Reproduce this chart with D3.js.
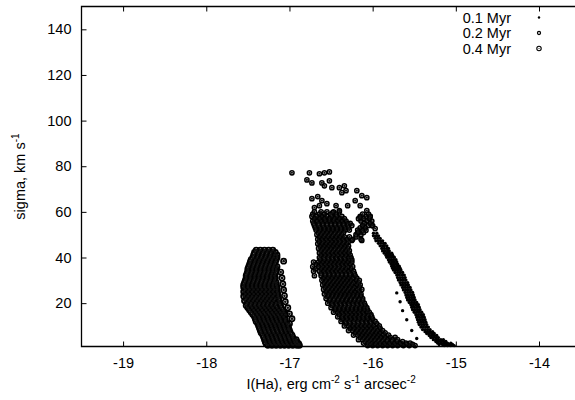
<!DOCTYPE html>
<html><head><meta charset="utf-8">
<script src="https://cdn.jsdelivr.net/npm/d3@7"></script>
<style>
body{margin:0;background:#fff}
text{font-family:"Liberation Sans",Arial,sans-serif;font-size:14.5px;fill:#000}
</style>
</head><body>
<svg id="c" width="575" height="400"></svg>
<script>
// ---------- data ----------
const xTicks = [-19, -18, -17, -16, -15, -14];
const yTicks = [20, 40, 60, 80, 100, 120, 140];
const seriesNames = ["0.1 Myr", "0.2 Myr", "0.4 Myr"];

// 0.1 Myr: [sigma, [I(Ha) values]]
const myr01Rows = [
 [50.6,[-15.99,-15.95]],
 [49.5,[-15.99,-15.96,-15.93]],
 [48.4,[-15.97,-15.94,-15.91]],
 [47.3,[-15.96,-15.93,-15.90,-15.88]],
 [46.2,[-15.93,-15.90,-15.87,-15.85]],
 [45.1,[-15.91,-15.88,-15.86,-15.83]],
 [44.0,[-15.89,-15.86,-15.83,-15.81]],
 [42.9,[-15.88,-15.85,-15.82,-15.80]],
 [41.9,[-15.86,-15.83,-15.80,-15.77]],
 [41.0,[-15.84,-15.81,-15.79,-15.76]],
 [40.1,[-15.83,-15.80,-15.77,-15.74]],
 [39.0,[-15.81,-15.78,-15.75,-15.72]],
 [38.0,[-15.80,-15.77,-15.74,-15.71]],
 [37.1,[-15.78,-15.75,-15.72,-15.70]],
 [36.2,[-15.77,-15.74,-15.71,-15.68]],
 [35.3,[-15.76,-15.73,-15.70,-15.67]],
 [34.5,[-15.75,-15.72,-15.69,-15.66]],
 [33.4,[-15.73,-15.70,-15.67,-15.64]],
 [32.3,[-15.71,-15.68,-15.65,-15.62]],
 [31.2,[-15.70,-15.67,-15.64,-15.61]],
 [30.1,[-15.69,-15.66,-15.63,-15.60]],
 [29.0,[-15.67,-15.64,-15.61,-15.58]],
 [28.0,[-15.66,-15.63,-15.60,-15.57]],
 [26.9,[-15.64,-15.61,-15.58,-15.55]],
 [25.8,[-15.63,-15.60,-15.57,-15.54]],
 [24.7,[-15.61,-15.58,-15.55,-15.52]],
 [23.6,[-15.60,-15.57,-15.54,-15.51]],
 [22.5,[-15.59,-15.56,-15.53,-15.50]],
 [21.4,[-15.58,-15.55,-15.52,-15.49]],
 [20.3,[-15.56,-15.53,-15.50,-15.47]],
 [19.3,[-15.54,-15.51,-15.48,-15.45]],
 [18.2,[-15.53,-15.50,-15.47,-15.44]],
 [17.1,[-15.52,-15.49,-15.46,-15.43]],
 [16.0,[-15.50,-15.47,-15.44,-15.41]],
 [14.9,[-15.48,-15.45,-15.42,-15.39]],
 [13.8,[-15.47,-15.44,-15.41,-15.38]],
 [12.7,[-15.46,-15.43,-15.40,-15.37]],
 [11.6,[-15.45,-15.42,-15.39,-15.36]],
 [10.6,[-15.44,-15.41,-15.38,-15.35]],
 [9.5,[-15.42,-15.39,-15.36,-15.33]],
 [8.4,[-15.40,-15.37,-15.34,-15.31]],
 [7.5,[-15.37,-15.34,-15.31,-15.28]],
 [6.7,[-15.35,-15.32,-15.29,-15.26]],
 [5.8,[-15.32,-15.29,-15.26,-15.23]],
 [4.9,[-15.30,-15.27,-15.24,-15.21]],
 [4.0,[-15.27,-15.24,-15.21,-15.18,-15.15]],
 [3.2,[-15.24,-15.21,-15.18,-15.15,-15.12]],
 [2.5,[-15.22,-15.18,-15.14,-15.10,-15.06]],
 [1.9,[-15.20,-15.16,-15.12,-15.08,-15.04]],
 [1.4,[-15.14,-15.10,-15.06,-15.02]]
];
const myr01Extra = [[-15.71,24.5],[-15.67,20.6],[-15.64,16.7],[-15.59,12.7],[-15.53,8.0],[-15.47,4.5]];

// 0.2 Myr
const myr02Rows = [
 [60,[-16.70,-16.62,-16.55,-16.47,-16.40]],
 [59,[-16.72,-16.64,-16.58,-16.50,-16.44,-16.12,-16.05]],
 [58,[-16.73,-16.67,-16.61,-16.55,-16.49,-16.43,-16.37,-16.15,-16.08,-16.03]],
 [57,[-16.70,-16.64,-16.58,-16.52,-16.46,-16.40,-16.34,-16.17,-16.11,-16.04]],
 [56,[-16.72,-16.67,-16.62,-16.57,-16.52,-16.47,-16.42,-16.37,-16.32,-16.14,-16.07,-16.01]],
 [55,[-16.71,-16.65,-16.60,-16.55,-16.50,-16.45,-16.40,-16.35,-16.30,-16.27,-16.10,-16.03]],
 [54,[-16.70,-16.65,-16.60,-16.55,-16.50,-16.45,-16.40,-16.35,-16.30,-16.25,-16.12,-16.05,-16.00]],
 [53,[-16.69,-16.63,-16.58,-16.53,-16.48,-16.43,-16.38,-16.33,-16.29,-16.15,-16.09]],
 [52,[-16.68,-16.63,-16.58,-16.53,-16.48,-16.43,-16.38,-16.33,-16.28,-16.18,-16.12]],
 [51,[-16.65,-16.60,-16.55,-16.50,-16.45,-16.40,-16.35,-16.17,-16.11]],
 [50,[-16.67,-16.62,-16.57,-16.52,-16.47,-16.42,-16.37,-16.20,-16.14]],
 [49,[-16.64,-16.59,-16.54,-16.49,-16.44,-16.39,-16.34,-16.28,-16.20]],
 [48,[-16.66,-16.61,-16.56,-16.51,-16.46,-16.41,-16.36,-16.31,-16.24,-16.14]],
 [47,[-16.64,-16.59,-16.54,-16.49,-16.44,-16.39,-16.34,-16.29]],
 [46,[-16.66,-16.61,-16.56,-16.51,-16.46,-16.41,-16.36,-16.31]],
 [45,[-16.63,-16.58,-16.53,-16.48,-16.43,-16.38,-16.33,-16.29]],
 [44,[-16.65,-16.60,-16.55,-16.50,-16.45,-16.40,-16.35,-16.30]],
 [43,[-16.62,-16.57,-16.52,-16.47,-16.42,-16.37,-16.32,-16.28]],
 [42,[-16.64,-16.59,-16.54,-16.49,-16.44,-16.39,-16.34,-16.29]],
 [41,[-16.62,-16.57,-16.52,-16.47,-16.42,-16.37,-16.32,-16.27]],
 [40,[-16.64,-16.59,-16.54,-16.49,-16.44,-16.39,-16.34,-16.29,-16.26]],
 [39,[-16.63,-16.58,-16.53,-16.48,-16.43,-16.38,-16.33,-16.28,-16.25]],
 [38,[-16.71,-16.65,-16.60,-16.55,-16.50,-16.45,-16.40,-16.35,-16.30,-16.25]],
 [37,[-16.68,-16.62,-16.57,-16.52,-16.47,-16.42,-16.37,-16.32,-16.27]],
 [36,[-16.72,-16.65,-16.60,-16.55,-16.50,-16.45,-16.40,-16.35,-16.30,-16.24]],
 [35,[-16.69,-16.62,-16.57,-16.52,-16.47,-16.42,-16.37,-16.32,-16.26]],
 [34,[-16.71,-16.64,-16.59,-16.54,-16.49,-16.44,-16.39,-16.34,-16.29,-16.23]],
 [33,[-16.62,-16.57,-16.52,-16.47,-16.42,-16.37,-16.32,-16.27,-16.22]],
 [32,[-16.70,-16.62,-16.57,-16.52,-16.47,-16.42,-16.37,-16.32,-16.27,-16.21]],
 [31,[-16.59,-16.54,-16.49,-16.44,-16.39,-16.34,-16.29,-16.24,-16.19]],
 [30,[-16.61,-16.56,-16.51,-16.46,-16.41,-16.36,-16.31,-16.26,-16.20,-16.16]],
 [29,[-16.58,-16.53,-16.48,-16.43,-16.38,-16.33,-16.28,-16.23,-16.17]],
 [28,[-16.60,-16.55,-16.50,-16.45,-16.40,-16.35,-16.30,-16.25,-16.19,-16.15]],
 [27,[-16.57,-16.52,-16.47,-16.42,-16.37,-16.32,-16.27,-16.22,-16.16]],
 [26,[-16.59,-16.54,-16.49,-16.44,-16.39,-16.34,-16.29,-16.24,-16.18,-16.13]],
 [25,[-16.56,-16.51,-16.46,-16.41,-16.36,-16.31,-16.26,-16.21,-16.16]],
 [24,[-16.58,-16.53,-16.48,-16.43,-16.38,-16.33,-16.28,-16.23,-16.18,-16.14]],
 [23,[-16.54,-16.49,-16.44,-16.39,-16.34,-16.29,-16.24,-16.19,-16.14]],
 [22,[-16.56,-16.51,-16.46,-16.41,-16.36,-16.31,-16.26,-16.21,-16.16,-16.12]],
 [21,[-16.52,-16.47,-16.42,-16.37,-16.32,-16.27,-16.22,-16.17,-16.12]],
 [20,[-16.54,-16.49,-16.44,-16.39,-16.34,-16.29,-16.24,-16.19,-16.14,-16.10]],
 [19,[-16.48,-16.43,-16.38,-16.33,-16.28,-16.23,-16.18,-16.13,-16.09]],
 [18,[-16.50,-16.45,-16.40,-16.35,-16.30,-16.25,-16.20,-16.15,-16.10,-16.07]],
 [17,[-16.45,-16.40,-16.35,-16.30,-16.25,-16.20,-16.15,-16.10,-16.06]],
 [16,[-16.47,-16.42,-16.37,-16.32,-16.27,-16.22,-16.17,-16.12,-16.07,-16.04]],
 [15,[-16.40,-16.35,-16.30,-16.25,-16.20,-16.15,-16.10,-16.05,-16.02]],
 [14,[-16.42,-16.37,-16.32,-16.27,-16.22,-16.17,-16.12,-16.07,-16.01]],
 [13,[-16.36,-16.31,-16.26,-16.21,-16.16,-16.11,-16.06,-16.00]],
 [12,[-16.38,-16.33,-16.28,-16.23,-16.18,-16.13,-16.08,-16.03,-15.97]],
 [11,[-16.32,-16.27,-16.22,-16.17,-16.12,-16.07,-16.02,-15.95]],
 [10,[-16.34,-16.29,-16.24,-16.19,-16.14,-16.09,-16.04,-15.99,-15.92]],
 [9,[-16.27,-16.22,-16.17,-16.12,-16.07,-16.02,-15.97,-15.91]],
 [8,[-16.29,-16.24,-16.19,-16.14,-16.09,-16.04,-15.99,-15.94,-15.88]],
 [7,[-16.21,-16.16,-16.11,-16.06,-16.01,-15.96,-15.91,-15.85]],
 [6,[-16.23,-16.18,-16.13,-16.08,-16.03,-15.98,-15.93,-15.87,-15.81]],
 [5,[-16.15,-16.10,-16.05,-16.00,-15.95,-15.90,-15.85,-15.79,-15.73]],
 [4,[-16.17,-16.12,-16.07,-16.02,-15.97,-15.92,-15.87,-15.82,-15.76,-15.70]],
 [3.2,[-16.09,-16.04,-15.99,-15.94,-15.89,-15.83,-15.77,-15.71,-15.64]],
 [2.5,[-16.11,-16.06,-16.01,-15.96,-15.91,-15.86,-15.80,-15.74,-15.67,-15.60,-15.55]],
 [1.9,[-16.03,-15.97,-15.91,-15.85,-15.79,-15.73,-15.66,-15.59,-15.52]],
 [1.4,[-16.06,-16.00,-15.94,-15.88,-15.82,-15.76,-15.70,-15.63,-15.56,-15.49]]
];
const myr02Extra = [
 [-16.97,77.1],[-16.76,77.1],[-16.64,76.7],[-16.58,77.1],[-16.52,77.5],
 [-16.79,74.0],[-16.73,72.7],[-16.61,72.7],[-16.52,73.6],[-16.58,71.4],
 [-16.49,70.6],[-16.40,70.6],[-16.34,71.4],[-16.37,68.4],[-16.32,69.3],
 [-16.73,65.8],[-16.66,66.7],[-16.61,64.9],[-16.55,63.6],[-16.70,61.9],
 [-16.48,59.7],[-16.40,60.6],[-16.19,69.3],[-16.13,67.1],[-16.07,66.2],
 [-16.21,64.9],[-16.30,62.7],[-16.15,62.7],[-16.07,60.6],[-16.03,58.0],
 [-16.15,57.5],[-16.12,54.0],[-16.01,54.0],[-16.18,51.0],[-16.13,47.5],
 [-16.25,47.5],[-16.44,62.7],[-16.64,62.7],[-16.08,51.9],[-15.97,52.7]
];

// 0.4 Myr
const myr04Rows = [
 [43.2,[-17.40,-17.35,-17.30,-17.25,-17.20]],
 [42.2,[-17.42,-17.37,-17.32,-17.27,-17.22,-17.17]],
 [41.1,[-17.43,-17.38,-17.33,-17.28,-17.23,-17.18,-17.15]],
 [40.0,[-17.44,-17.39,-17.34,-17.29,-17.24,-17.19,-17.15]],
 [39.0,[-17.46,-17.41,-17.36,-17.31,-17.26,-17.21,-17.16]],
 [38.0,[-17.47,-17.42,-17.37,-17.32,-17.27,-17.22,-17.17]],
 [37.0,[-17.48,-17.43,-17.38,-17.33,-17.28,-17.23,-17.18]],
 [36.0,[-17.49,-17.44,-17.39,-17.34,-17.29,-17.24,-17.19,-17.15]],
 [35.0,[-17.50,-17.45,-17.40,-17.35,-17.30,-17.25,-17.20,-17.16]],
 [34.0,[-17.50,-17.45,-17.40,-17.35,-17.30,-17.25,-17.20,-17.16]],
 [33.0,[-17.51,-17.46,-17.41,-17.36,-17.31,-17.26,-17.21,-17.17]],
 [32.0,[-17.52,-17.47,-17.42,-17.37,-17.32,-17.27,-17.22,-17.18]],
 [31.0,[-17.52,-17.47,-17.42,-17.37,-17.32,-17.27,-17.22,-17.17]],
 [30.0,[-17.53,-17.48,-17.43,-17.38,-17.33,-17.28,-17.23,-17.18]],
 [29.0,[-17.54,-17.49,-17.44,-17.39,-17.34,-17.29,-17.24,-17.19,-17.16]],
 [28.0,[-17.55,-17.50,-17.45,-17.40,-17.35,-17.30,-17.25,-17.20,-17.16]],
 [27.0,[-17.55,-17.50,-17.45,-17.40,-17.35,-17.30,-17.25,-17.20,-17.15]],
 [26.0,[-17.53,-17.48,-17.43,-17.38,-17.33,-17.28,-17.23,-17.18,-17.15]],
 [25.0,[-17.55,-17.50,-17.45,-17.40,-17.35,-17.30,-17.25,-17.20,-17.15]],
 [24.0,[-17.53,-17.48,-17.43,-17.38,-17.33,-17.28,-17.23,-17.18,-17.14]],
 [23.0,[-17.55,-17.50,-17.45,-17.40,-17.35,-17.30,-17.25,-17.20,-17.14]],
 [22.0,[-17.52,-17.47,-17.42,-17.37,-17.32,-17.27,-17.22,-17.17,-17.13]],
 [21.0,[-17.54,-17.49,-17.44,-17.39,-17.34,-17.29,-17.24,-17.19,-17.13]],
 [20.0,[-17.51,-17.46,-17.41,-17.36,-17.31,-17.26,-17.21,-17.16,-17.12]],
 [19.0,[-17.52,-17.47,-17.42,-17.37,-17.32,-17.27,-17.22,-17.17,-17.11]],
 [18.0,[-17.50,-17.45,-17.40,-17.35,-17.30,-17.25,-17.20,-17.15,-17.10]],
 [17.0,[-17.48,-17.43,-17.38,-17.33,-17.28,-17.23,-17.18,-17.13,-17.08]],
 [16.0,[-17.46,-17.41,-17.36,-17.31,-17.26,-17.21,-17.16,-17.11,-17.07]],
 [15.0,[-17.44,-17.39,-17.34,-17.29,-17.24,-17.19,-17.14,-17.09,-17.05]],
 [14.0,[-17.42,-17.37,-17.32,-17.27,-17.22,-17.17,-17.12,-17.07]],
 [13.0,[-17.41,-17.36,-17.31,-17.26,-17.21,-17.16,-17.11,-17.05]],
 [12.0,[-17.40,-17.35,-17.30,-17.25,-17.20,-17.15,-17.10,-17.05]],
 [11.0,[-17.38,-17.33,-17.28,-17.23,-17.18,-17.13,-17.08,-17.03]],
 [10.0,[-17.37,-17.32,-17.27,-17.22,-17.17,-17.12,-17.07,-17.02]],
 [9.0,[-17.36,-17.31,-17.26,-17.21,-17.16,-17.11,-17.06,-17.01]],
 [8.0,[-17.35,-17.30,-17.25,-17.20,-17.15,-17.10,-17.05,-17.00]],
 [7.0,[-17.34,-17.29,-17.24,-17.19,-17.14,-17.09,-17.04,-16.99]],
 [6.0,[-17.32,-17.27,-17.22,-17.17,-17.12,-17.07,-17.02,-16.97]],
 [5.0,[-17.31,-17.26,-17.21,-17.16,-17.11,-17.06,-17.01,-16.96]],
 [4.0,[-17.30,-17.25,-17.20,-17.15,-17.10,-17.05,-17.00,-16.95,-16.92]],
 [3.0,[-17.29,-17.24,-17.19,-17.14,-17.09,-17.04,-16.99,-16.94,-16.91]],
 [2.2,[-17.28,-17.23,-17.18,-17.13,-17.08,-17.03,-16.98,-16.93,-16.89]],
 [1.5,[-17.26,-17.21,-17.16,-17.11,-17.06,-17.01,-16.96,-16.91,-16.88]]
];
const myr04Extra = [
 [-17.105,33.6],[-17.09,31.0],[-17.08,28.4],[-17.07,25.8],[-17.06,23.2],
 [-17.05,20.6],[-17.02,18.0],[-17.00,15.3],[-16.97,13.2],[-17.00,11.0],
 [-17.01,8.4],[-17.07,38.4]
];

// ---------- drawing ----------
const L = 81.5, T = 6.5, B = 346.5, R = 580.6;
const svg = d3.select("#c");
const x = d3.scaleLinear().domain([-19.5, -13.5]).range([L, R]);
const y = d3.scaleLinear().domain([1, 150]).range([B, T]);

const flat = (rows, extra) => rows.flatMap(([s, xs]) => xs.map(v => [v, s])).concat(extra);
const p01 = flat(myr01Rows, myr01Extra);
const p02 = flat(myr02Rows, myr02Extra);
const p04 = flat(myr04Rows, myr04Extra);

const plot = svg.append("g");
function dots(g, pts, r) {
  g.selectAll("circle.d").data(pts).join("circle").attr("class", "d")
    .attr("cx", d => x(d[0])).attr("cy", d => y(d[1])).attr("r", r).attr("fill", "#000");
}
function rings(g, pts, r, sw, cr) {
  g.selectAll("circle.r").data(pts).join("circle").attr("class", "r")
    .attr("cx", d => x(d[0])).attr("cy", d => y(d[1])).attr("r", r)
    .attr("fill", "none").attr("stroke", "#000").attr("stroke-width", sw);
  g.selectAll("circle.c").data(pts).join("circle").attr("class", "c")
    .attr("cx", d => x(d[0])).attr("cy", d => y(d[1])).attr("r", cr).attr("fill", "#111");
}
dots(plot.append("g"), p01, 1.7);
rings(plot.append("g"), p02, 2.1, 1.5, 1.1);
rings(plot.append("g"), p04, 2.6, 1.7, 1.3);

// axes
const fmt = d => String(d);
const ax = d3.axisBottom(x).tickValues(xTicks).tickSize(-5).tickPadding(11).tickFormat(fmt);
const gx = svg.append("g").attr("transform", `translate(0,${B})`).call(ax);
const gxt = svg.append("g").attr("transform", `translate(0,${T})`)
  .call(d3.axisTop(x).tickValues(xTicks).tickSize(-5).tickFormat(""));
const ay = d3.axisLeft(y).tickValues(yTicks).tickSize(-5).tickPadding(10).tickFormat(fmt);
const gy = svg.append("g").attr("transform", `translate(${L},0)`).call(ay);
[gx, gxt, gy].forEach(g => {
  g.select(".domain").remove();
  g.selectAll("line").attr("stroke", "#000").attr("stroke-width", 1);
  g.selectAll("text").attr("font-size", 14.5).attr("font-family", "Liberation Sans, Arial, sans-serif").attr("fill", "#000");
});

// border
svg.append("path")
  .attr("d", `M${R},${T}H${L}V${B}H${R}`)
  .attr("fill", "none").attr("stroke", "#000").attr("stroke-width", 1.3);

// axis titles
const xt = svg.append("text").attr("x", (L + R) / 2).attr("y", 389).attr("text-anchor", "middle");
xt.append("tspan").text("I(Ha), erg cm");
xt.append("tspan").attr("dy", -6).attr("font-size", 10).text("-2");
xt.append("tspan").attr("dy", 6).text(" s");
xt.append("tspan").attr("dy", -6).attr("font-size", 10).text("-1");
xt.append("tspan").attr("dy", 6).text(" arcsec");
xt.append("tspan").attr("dy", -6).attr("font-size", 10).text("-2");

const yt = svg.append("text").attr("transform", `translate(25,${(T + B) / 2}) rotate(-90)`).attr("text-anchor", "middle");
yt.append("tspan").text("sigma, km s");
yt.append("tspan").attr("dy", -6).attr("font-size", 10).text("-1");

// legend
const legY = [17.5, 33, 48.5];
const leg = svg.append("g");
seriesNames.forEach((name, i) => {
  leg.append("text").attr("x", 511).attr("y", legY[i] + 5.3).attr("text-anchor", "end")
    .attr("font-size", 15).text(name);
});
dots(leg.append("g"), [[x.invert(539), y.invert(legY[0])]], 1.2);
rings(leg.append("g"), [[x.invert(539), y.invert(legY[1])]], 1.6, 1.1, 0.6);
rings(leg.append("g"), [[x.invert(539), y.invert(legY[2])]], 2.2, 1.1, 0.6);
</script>
</body></html>
